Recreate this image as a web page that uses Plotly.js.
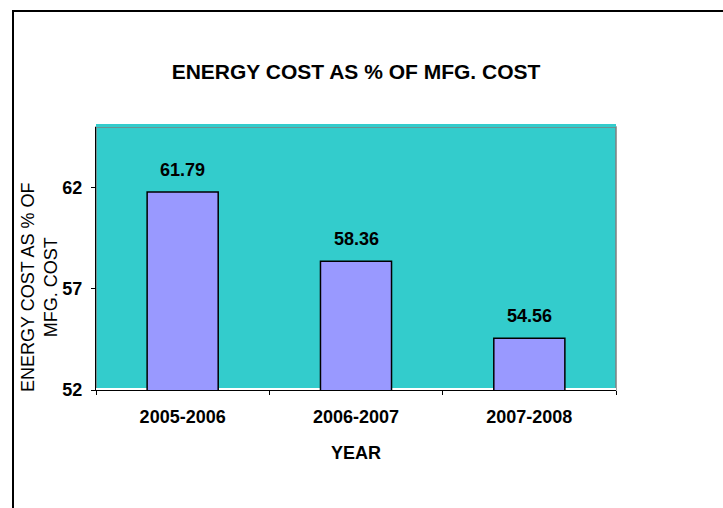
<!DOCTYPE html>
<html><head><meta charset="utf-8">
<script src="https://cdn.plot.ly/plotly-3.0.1.min.js"></script>
<style>body{margin:0;padding:0;background:#fff}#chart{width:723px;height:508px}</style>
</head><body><div id="chart"></div>
<script>
const categories = ["2005-2006", "2006-2007", "2007-2008"];
const values = [61.79, 58.36, 54.56];
const labels = ["61.79", "58.36", "54.56"];
const yTicks = [52, 57, 62];
const titleText = "ENERGY COST AS % OF MFG. COST";
const yTitle = "ENERGY COST AS % OF<br>MFG. COST";
const xTitle = "YEAR";

const font = "Liberation Sans, Arial, sans-serif";

const trace = {
  type: "bar",
  x: categories,
  y: values,
  marker: {color: "#9999FF", line: {color: "#000000", width: 1.5}},
  hoverinfo: "none"
};

const annotations = categories.map((c, i) => ({
  x: c, y: values[i], xref: "x", yref: "y",
  text: "<b>" + labels[i] + "</b>", showarrow: false,
  yanchor: "bottom", yshift: 10,
  font: {family: font, size: 18, color: "#000"}
}));
annotations.push({
  xref: "paper", yref: "paper", x: 0, y: 0.388, xshift: -56,
  text: yTitle, textangle: -90, showarrow: false,
  xanchor: "center", yanchor: "middle",
  font: {family: font, size: 18, color: "#000"}
});
annotations.push({
  xref: "paper", yref: "paper", x: 0.5, y: 0, yshift: -63,
  text: "<b>" + xTitle + "</b>", showarrow: false,
  xanchor: "center", yanchor: "middle",
  font: {family: font, size: 18, color: "#000"}
});

const layout = {
  width: 723, height: 508,
  margin: {l: 96, r: 107, t: 127, b: 118},
  paper_bgcolor: "#ffffff",
  plot_bgcolor: "#33CCCC",
  showlegend: false,
  bargap: 0.59,
  title: {text: "<b>" + titleText + "</b>", x: 0.5, xref: "paper", xanchor: "center",
          y: 1 - 72/508, yanchor: "middle",
          font: {family: font, size: 21, color: "#000"}},
  xaxis: {
    type: "category", showgrid: false, zeroline: false,
    showline: true, linecolor: "#000", linewidth: 1,
    ticks: "outside", ticklen: 4, tickcolor: "#000", tickson: "boundaries",
    tickfont: {family: font, size: 18, color: "#000", weight: "bold"},
    ticklabelstandoff: 10
  },
  yaxis: {
    range: [52, 65], tickvals: yTicks, ticktext: yTicks.map(v => "<b>" + v + "</b>"),
    showgrid: false, zeroline: false,
    showline: true, linecolor: "#000", linewidth: 1,
    ticks: "outside", ticklen: 4, tickcolor: "#000",
    tickfont: {family: font, size: 18, color: "#000"},
    ticklabelstandoff: 5
  },
  annotations: annotations,
  shapes: [
    {type: "rect", xref: "paper", yref: "paper", x0: 0, x1: 1, y0: 0, y1: 1,
     line: {color: "#808080", width: 1.5}, fillcolor: "rgba(0,0,0,0)", layer: "below"},
    {type: "rect", xref: "paper", yref: "paper", x0: 0, x1: 1, y0: 0, y1: 0,
     ysizemode: "pixel", yanchor: 0, y0: 0, y1: 2,
     line: {width: 0}, fillcolor: "#ffffff", layer: "below"},
    {type: "rect", xref: "paper", yref: "paper", x0: 0, x1: 1,
     y0: 1, y1: 1 + 3/263,
     line: {width: 0}, fillcolor: "#33CCCC", layer: "above"},
    {type: "rect", xref: "paper", yref: "paper",
     x0: (13 - 96) / 520, x1: 1.5, y0: (390 - 11) / 263, y1: -1,
     line: {color: "#000", width: 2}, fillcolor: "rgba(0,0,0,0)"}
  ]
};

Plotly.newPlot("chart", [trace], layout, {staticPlot: true});
</script></body></html>
